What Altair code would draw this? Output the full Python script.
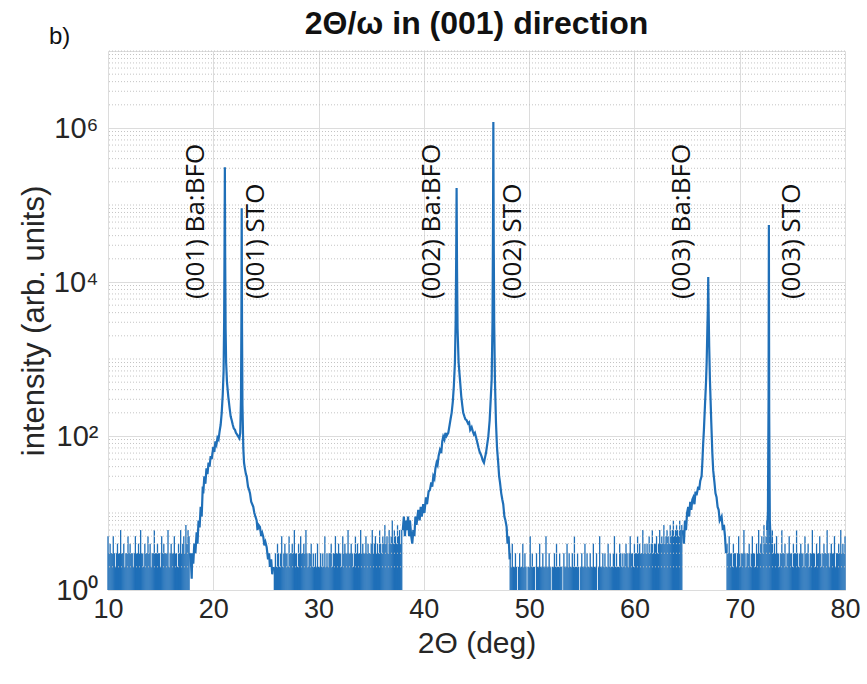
import altair as alt
import pandas as pd

# ---------------- data ----------------
# background counts, sampled every 0.1 deg, starting at these 2-theta values
bg_start = [10.0, 25.8, 48.2, 68.8]
bgA = [5,3,4,3,3,5,3,2,3,4, 3,3,6,3,3,4,2,3,3,5, 3,4,3,3,2,3,5,3,3,4,
       3,6,3,3,2,4,3,3,5,3, 4,2,3,3,6,3,3,4,3,3, 2,5,3,4,3,3,3,6,2,3,
       4,3,3,5,3,3,2,4,3,6, 3,4,5,3,7,4,6,5]
bgB = [2,3,2,4,3,2,3,5,2,3, 4,3,3,2,5,3,3,4,3,6, 3,3,2,4,3,5,3,3,4,3,
       6,3,2,3,3,4,2,3,2,3, 2,4,2,2,3,2,3,2,5,2, 3,2,3,3,4,2,3,3,5,3,
       3,4,3,3,2,5,3,4,3,3, 6,3,3,4,3,2,3,5,3,4, 3,3,6,3,4,3,3,5,3,4,
       3,3,4,6,3,4,5,3,4,3, 6,4,3,5,4,7,4,5,3,6, 4,5,8,4,6,5,4,7,5,6,
       4,6]
bgC = [3,2,4,2,2,3,2,1,2,3, 2,2,4,2,3,2,1,2,2,5, 2,3,2,2,1,3,2,2,4,2,
       2,3,2,2,5,2,2,3,2,1, 2,2,3,2,4,2,2,3,2,2, 1,3,2,2,4,2,3,2,2,3,
       2,5,2,2,3,2,1,2,3,2, 2,4,2,3,2,2,3,2,2,4, 2,2,3,1,2,5,2,2,3,2,
       3,2,2,4,2,3,2,2,3,5, 2,3,2,2,4,3,2,3,2,3, 4,3,2,3,5,3,3,2,4,3,
       3,5,3,4,3,3,6,3,4,3, 4,3,5,3,4,6,3,4,4,5, 3,4,6,4,5,4,7,4,5,6,
       5,4,7,5,6,8,5,6,7,6, 5,8,6,7]
bgD = [4,3,5,3,3,2,4,3,3,2, 3,5,3,2,3,3,6,3,2,3, 3,4,2,3,5,3,3,2,4,3,
       6,3,4,5,3,7,4,5,8,9, 7,5,4,6,3,4,3,5,3,3, 2,3,6,3,3,4,2,3,3,5,
       3,3,2,4,3,3,6,3,2,3, 4,3,3,2,5,3,3,4,2,3, 3,6,3,3,2,4,3,3,5,3,
       2,3,4,3,3,6,3,2,3,4, 3,3,5,2,3,3,4,3,6,3, 4,3,5]

# (001) Ba:BFO + (001) STO region
p1_x = [17.8,17.9,17.95,18.0,18.1,18.2,18.3,18.42,18.5,18.6,18.7,18.8,18.9,19.0,
        19.05,19.15,19.25,19.35,19.45,19.55,19.65,19.75,19.85,20.0,20.1,20.2,20.3,
        20.4,20.5,20.6,20.7,20.8,20.9,20.98,21.03,21.07,21.1,21.13,21.17,21.22,21.3,
        21.43,21.55,21.65,21.75,21.85,21.95,22.06,22.15,22.25,22.38,22.48,22.56,
        22.63,22.67,22.7,22.73,22.77,22.85,22.92,23.0,23.1,23.17,23.3,23.4,23.49,
        23.6,23.7,23.8,23.9,24.0,24.12,24.2,24.3,24.43,24.55,24.65,24.75,24.85,
        24.95,25.07,25.2,25.3,25.38,25.5,25.6,25.7]
p1_y = [3,2,1.4,3,2.2,4,3,5.6,4,8,6.5,12,9,22,
        18,30,24,38,32,45,40,55,50,72,62,85,78,
        95,90,115,140,200,350,700,3000,30000,310000,20000,2500,900,500,
        320,230,180,160,140,125,120,110,105,98,93,110,
        300,3000,91000,2500,250,70,45,38,32,30,22,20,18,
        14,13,12,10,9,8,6,7,6.6,5,5.5,4.9,3.8,
        4.2,3.6,2.5,3,2,2.5,1.6,2]

# (002) Ba:BFO + (002) STO region
p2_x = [38.0,38.1,38.2,38.3,38.4,38.5,38.6,38.68,38.8,38.9,39.0,39.1,39.2,39.3,
        39.47,39.6,39.7,39.8,39.94,40.05,40.2,40.3,40.45,40.58,40.7,40.8,40.9,41.0,
        41.1,41.21,41.3,41.4,41.53,41.65,41.75,41.84,41.95,42.05,42.15,42.32,42.45,
        42.55,42.64,42.75,42.85,42.95,43.02,43.07,43.11,43.15,43.2,43.3,43.43,43.55,
        43.65,43.74,43.85,43.95,44.06,44.2,44.3,44.4,44.54,44.65,44.75,44.85,45.01,
        45.1,45.2,45.3,45.4,45.49,45.6,45.71,45.8,45.9,46.0,46.12,46.25,46.35,46.44,
        46.52,46.57,46.6,46.63,46.68,46.75,46.85,46.95,47.06,47.15,47.23,47.35,
        47.45,47.54,47.65,47.75,47.86,47.95,48.05,48.15]
p2_y = [6,9,5,8,6,9,5,8,5,4,6,5,9,7,
        11,8,12,9,13,10,16,13,19,20,25,22,30,28,
        38,45,42,55,66,60,85,98,90,110,100,110,140,
        170,200,280,450,900,3000,20000,166000,15000,2500,900,540,330,
        250,200,180,165,160,145,150,120,130,115,105,110,90,
        80,70,62,58,54,48,45,52,60,75,98,160,300,540,
        3000,60000,1200000,50000,3000,540,150,70,45,30,25,18,
        15,13,9,8,6.6,4,5,2.5]

# (003) Ba:BFO region
p3_x = [64.6,64.7,64.8,64.9,65.0,65.11,65.2,65.3,65.4,65.5,65.59,65.7,65.8,65.9,
        66.06,66.15,66.25,66.38,66.45,66.53,66.6,66.7,66.8,66.86,66.93,66.98,67.01,
        67.04,67.1,67.17,67.3,67.4,67.48,67.6,67.7,67.8,67.9,68.0,68.1,68.28,68.4,
        68.5,68.6,68.7]
p3_y = [6,4,8,6,10,12,9,14,11,15,16,13,19,17,
        22,20,26,30,45,80,120,250,500,900,2500,5000,11600,
        5000,1500,540,150,60,36,25,18,16,12,11,8,9,6,
        7,5,3]

# (003) STO spike
p4_x = [72.6,72.68,72.74,72.77,72.8,72.86,72.95]
p4_y = [6,10,300,55000,200,8,4]

# peak labels
lab_text = ["(001) Ba:BFO", "(001) STO", "(002) Ba:BFO", "(002) STO",
            "(003) Ba:BFO", "(003) STO"]
lab_x = [18.4, 24.1, 40.8, 48.5, 64.5, 75.0]
lab_y = [6000, 6000, 6000, 6000, 6000, 6000]

panel_text = ["b)"]
panel_x = [5.4]
panel_y = [1.5e7]

# ---------------- tables ----------------
bg_rows = []
for s, arr in zip(bg_start, [bgA, bgB, bgC, bgD]):
    for i, v in enumerate(arr):
        bg_rows.append({"t": round(s + 0.1 * i, 2), "c": v, "b": 1})
bg = pd.DataFrame(bg_rows)

line_rows = []
for k, (xs, ys) in enumerate([(p1_x, p1_y), (p2_x, p2_y), (p3_x, p3_y), (p4_x, p4_y)]):
    for xv, yv in zip(xs, ys):
        line_rows.append({"t": xv, "c": yv, "seg": k})
lines = pd.DataFrame(line_rows)

labels = pd.DataFrame({"t": lab_x, "c": lab_y, "txt": lab_text})
panel = pd.DataFrame({"t": panel_x, "c": panel_y, "txt": panel_text})

minor = [m * 10 ** k for k in range(7) for m in range(1, 10)
         if not (m == 1 and k % 2 == 0)] + [1e7]
minor_df = pd.DataFrame({"c": minor})

BLUE = "#1f6fb8"
FONT = "Liberation Sans"

xenc = alt.X("t:Q", scale=alt.Scale(domain=[10, 80], nice=False, zero=False),
             axis=alt.Axis(values=[10, 20, 30, 40, 50, 60, 70, 80], format="d",
                           title="2Θ (deg)", labelFontSize=27, titleFontSize=30,
                           labelFont=FONT, titleFont=FONT, titleFontWeight="normal",
                           labelColor="#262626", titleColor="#262626",
                           labelPadding=6, titlePadding=6, ticks=False, domain=False,
                           grid=True, gridColor="#dcdcdc", gridWidth=1,
                           labelFlush=False))
yenc = alt.Y("c:Q", scale=alt.Scale(type="log", domain=[1, 1e7], nice=False),
             axis=alt.Axis(values=[1, 100, 10000, 1000000],
                           labelExpr="'10' + (datum.value < 10 ? '⁰' : datum.value < 1000 ? '²' : datum.value < 100000 ? '⁴' : '⁶')",
                           title="intensity (arb. units)", labelFontSize=29,
                           titleFontSize=31, labelFont=FONT, titleFont=FONT,
                           titleFontWeight="normal", labelColor="#262626",
                           titleColor="#262626", labelPadding=10, titlePadding=3,
                           ticks=False, domain=False, grid=True,
                           gridColor="#dcdcdc", gridWidth=1))

minor_grid = alt.Chart(minor_df).mark_rule(
    color="#c4c4c4", strokeDash=[1, 2], strokeWidth=1
).encode(y="c:Q")

stems = alt.Chart(bg).mark_rule(color=BLUE, strokeWidth=1.3).encode(
    x=xenc, y=yenc, y2="b:Q")

curve = alt.Chart(lines).mark_line(color=BLUE, strokeWidth=2.2).encode(
    x="t:Q", y="c:Q", detail="seg:N")

label_layer = alt.Chart(labels).mark_text(
    angle=270, align="left", baseline="middle", fontSize=26,
    font="Open Sans", color="#111111"
).encode(x="t:Q", y="c:Q", text="txt:N")

panel_layer = alt.Chart(panel).mark_text(
    align="center", baseline="middle", fontSize=24, font=FONT, color="#111111"
).encode(x="t:Q", y="c:Q", text="txt:N")

chart = alt.layer(stems, minor_grid, curve, label_layer, panel_layer).properties(
    width=737, height=539,
    title=alt.TitleParams("2Θ/ω in (001) direction", fontSize=32, fontWeight="bold",
                          font=FONT, color="#111111", anchor="middle", offset=14,
                          frame="group", dy=30),
    autosize=alt.AutoSizeParams(type="none"),
    padding={"left": 108, "top": 51, "right": 22, "bottom": 94},
).configure_view(stroke="#707070", strokeWidth=1).configure(background="white")

chart.save("out.html", embed_options={"renderer": "svg", "actions": False})
